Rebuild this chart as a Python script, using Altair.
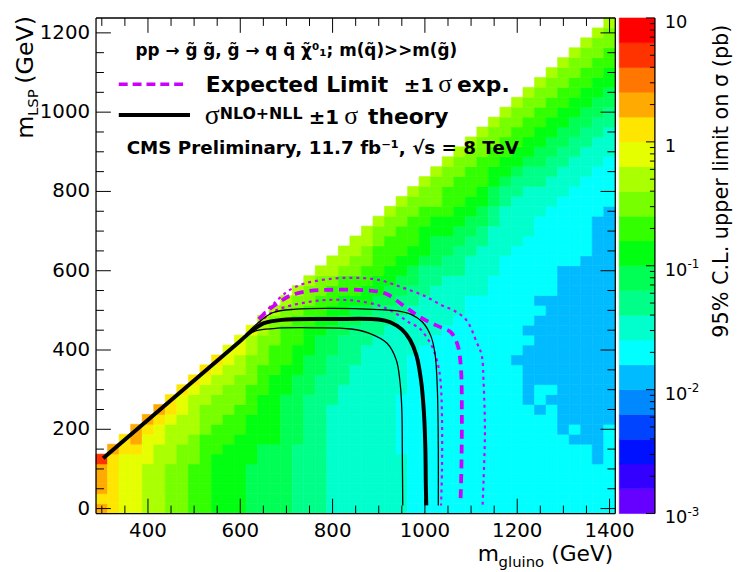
import numpy as np
import pandas as pd
import altair as alt

W, H = 525, 501
FONT = "DejaVu Sans"
SERIF = "Liberation Serif"
MAGENTA = "#CC00FF"

# z palette, from 1e-3 pb (bottom of the bar) to 10 pb (top)
PALETTE = ["#6600FF", "#3300FF", "#0011FF", "#0044FF", "#0088FF", "#00BBFF",
           "#00FFFF", "#00FFCC", "#00FF88", "#00FF55", "#00FF11", "#33FF00",
           "#77FF00", "#AAFF00", "#E6FF00", "#FFE600", "#FFAA00", "#FF7700",
           "#FF3300", "#FF0000"]
LEVEL_CODES = "0123456789ABCDEFGHIJ"
Z_RANGE = [1e-3, 10.0]

# scan points: one column per gluino mass, mLSP from 0 in 25 GeV steps
M_GLUINO = list(range(300, 1401, 25))
LSP_STEP = 25
# colour level of each cell going up the column, as level:count runs
LIMIT_LEVELS = [
    "G:1 F:1 G:3 I:1",
    "F:6 G:1",
    "E:6 F:2",
    "E:6 F:1 G:2",
    "D:5 E:3 F:1 G:1",
    "D:7 E:2 F:1 G:1",
    "C:5 D:4 E:1 F:2",
    "C:7 D:3 E:2 F:1",
    "B:5 C:3 D:4 E:1 F:1",
    "B:8 C:3 D:2 E:1 F:1",
    "A:6 B:3 C:3 D:2 E:1 F:1",
    "A:7 B:3 C:3 D:2 E:2",
    "A:8 B:3 C:3 D:2 E:2",
    "9:5 A:5 B:3 C:3 D:2 E:1",
    "9:7 A:5 B:3 C:3 D:2",
    "9:7 A:7 B:3 C:3 D:1",
    "9:12 A:3 B:4 C:2 D:1",
    "8:7 9:7 A:3 B:3 C:2 D:1",
    "8:12 9:4 A:3 B:2 C:2 D:1",
    "8:14 9:4 A:2 B:2 C:2 D:1",
    "7:11 8:5 9:3 A:2 B:2 C:1 D:2",
    "7:13 8:5 9:2 A:2 B:2 C:1 D:2",
    "7:15 8:4 9:2 A:1 B:2 C:2 D:2",
    "7:17 8:3 9:1 A:2 B:2 C:2 D:2",
    "7:18 8:3 9:1 A:2 B:3 C:2 D:1",
    "7:19 8:2 9:2 A:2 B:3 C:2 D:1",
    "7:6 6:6 7:8 8:2 9:2 A:2 B:3 C:2 D:1",
    "6:16 7:5 8:2 9:2 A:2 B:3 C:2 D:1",
    "6:17 7:5 8:3 9:1 A:3 B:2 C:2 D:1",
    "6:18 7:5 8:2 9:3 A:2 B:1 C:3 D:1",
    "6:19 7:5 8:2 9:2 A:2 B:3 C:2 D:1",
    "6:20 7:4 8:3 9:2 A:2 B:3 C:2 D:1",
    "6:22 7:4 8:2 9:2 A:2 B:3 C:2 D:1",
    "6:22 7:5 8:2 9:2 A:2 B:3 C:2 D:1",
    "6:24 7:5 8:2 9:2 A:2 B:2 C:2 D:1",
    "6:26 7:5 8:2 9:1 A:2 B:2 C:2 D:1",
    "6:15 5:1 6:11 7:5 8:2 9:1 A:2 B:2 C:2 D:1",
    "6:11 5:6 6:1 5:1 6:9 7:5 8:2 9:1 A:2 B:2 C:2 D:1",
    "6:10 5:1 6:2 5:7 6:1 5:1 6:8 7:3 8:2 9:2 A:2 B:2 C:2 D:1",
    "6:11 5:1 6:1 5:9 6:9 7:3 8:2 9:2 A:2 B:2 C:2 D:1",
    "6:8 5:17 6:7 7:3 8:2 9:2 A:2 B:2 C:2 D:1",
    "6:7 5:1 6:1 5:16 6:8 7:3 8:2 9:2 A:2 B:2 C:2 D:1",
    "6:7 5:19 6:8 7:3 8:2 9:2 A:2 B:2 C:2 D:1",
    "6:5 5:25 6:5 7:3 8:2 9:2 A:2 B:2 C:2 D:1",
    "6:9 5:22 6:5 7:3 8:2 9:2 A:2 B:2 C:2 D:1",
]

# exclusion contours (m_gluino, m_LSP)
OBS_MG = [303, 600, 625, 650, 690, 800, 900, 925, 950, 968, 982, 992, 998, 1001, 1002, 1003]
OBS_MLSP = [127, 423, 448, 467, 476, 478, 477, 470, 452, 425, 385, 320, 240, 150, 60, 8]
THEO_UP_MG = [612, 640, 670, 720, 800, 900, 940, 970, 995, 1013, 1022, 1027, 1029, 1029]
THEO_UP_MLSP = [440, 470, 494, 503, 505, 502, 499, 490, 470, 435, 390, 300, 150, 8]
THEO_DN_MG = [612, 640, 680, 760, 840, 880, 918, 938, 946, 950, 951, 952]
THEO_DN_MLSP = [438, 450, 455, 456, 453, 442, 417, 375, 320, 250, 150, 8]
EXP_MG = [640, 660, 686, 710, 750, 800, 880, 916, 950, 980, 1010, 1035, 1056, 1071, 1078, 1080, 1079, 1077]
EXP_MLSP = [478, 500, 522, 538, 549, 552, 550, 542, 515, 490, 470, 457, 445, 412, 355, 230, 100, 12]
EXP_UP_MG = [650, 675, 705, 740, 800, 850, 900, 950, 1000, 1036, 1062, 1090, 1112, 1123, 1127, 1130, 1127, 1125]
EXP_UP_MLSP = [492, 520, 550, 568, 580, 582, 577, 558, 536, 513, 500, 475, 420, 387, 320, 195, 70, 8]
EXP_DN_MG = [640, 665, 693, 773, 843, 901, 937, 965, 988, 1005, 1017, 1028, 1034, 1037, 1037, 1035]
EXP_DN_MLSP = [468, 492, 507, 525, 525, 512, 492, 470, 455, 430, 405, 365, 320, 230, 100, 8]

X_RANGE = [287.5, 1412.5]
Y_RANGE = [-12.5, 1237.5]
X_LABELS = [400, 600, 800, 1000, 1200, 1400]
Y_LABELS = [0, 200, 400, 600, 800, 1000, 1200]
X_MINOR = [300, 350, 450, 500, 550, 650, 700, 750, 850, 900, 950,
           1050, 1100, 1150, 1250, 1300, 1350]
Y_MINOR = [50, 100, 150, 250, 300, 350, 450, 500, 550, 650, 700, 750,
           850, 900, 950, 1050, 1100, 1150]

CB_VALUES = [10, 1, 0.1, 0.01, 0.001]
CB_BASE = ["10", "1", "10", "10", "10"]
CB_EXP = ["", "", "-1", "-2", "-3"]

TXT_PROCESS = "pp \u2192 g\u0303 g\u0303, g\u0303 \u2192 q q\u0304 \u03c7\u0303\u2070\u2081; m(q\u0303)>>m(g\u0303)"
TXT_CMS = "CMS Preliminary, 11.7 fb\u207b\u00b9, \u221as = 8 TeV"
TXT_ZTITLE = "95% C.L. upper limit on \u03c3 (pb)"

XS = alt.Scale(domain=X_RANGE, nice=False, zero=False)
YS = alt.Scale(domain=Y_RANGE, nice=False, zero=False)
ZS = alt.Scale(type="log", domain=Z_RANGE, nice=False)

# %% cells
rows = []
for mg, runs in zip(M_GLUINO, LIMIT_LEVELS):
    codes = "".join(c * int(n) for c, n in (r.split(":") for r in runs.split()))
    for j, c in enumerate(codes):
        rows.append({"mg": mg, "mlsp": j * LSP_STEP,
                     "color": PALETTE[LEVEL_CODES.index(c)]})
cells = pd.DataFrame(rows)
cells["x0"] = cells.mg - LSP_STEP / 2
cells["x1"] = cells.mg + LSP_STEP / 2
cells["y0"] = cells.mlsp - LSP_STEP / 2
cells["y1"] = cells.mlsp + LSP_STEP / 2

heat = alt.Chart(cells).mark_rect(strokeWidth=0.6).encode(
    x=alt.X("x0:Q", scale=XS, axis=None),
    x2="x1:Q",
    y=alt.Y("y0:Q", scale=YS, axis=None),
    y2="y1:Q",
    color=alt.Color("color:N", scale=None),
    stroke=alt.Stroke("color:N", scale=None),
)


def contour(mg, mlsp, color, width, dash=None):
    df = pd.DataFrame({"mg": mg, "mlsp": mlsp, "i": range(len(mg))})
    kw = dict(color=color, strokeWidth=width, interpolate="catmull-rom")
    if dash:
        kw["strokeDash"] = dash
    return alt.Chart(df).mark_line(**kw).encode(
        x=alt.X("mg:Q", scale=XS, axis=None),
        y=alt.Y("mlsp:Q", scale=YS, axis=None),
        order="i:Q",
    )


lines = [
    contour(EXP_UP_MG, EXP_UP_MLSP, MAGENTA, 2.2, [3, 4]),
    contour(EXP_DN_MG, EXP_DN_MLSP, MAGENTA, 2.2, [3, 4]),
    contour(EXP_MG, EXP_MLSP, MAGENTA, 3.8, [9, 6]),
    contour(THEO_UP_MG, THEO_UP_MLSP, "black", 1.3),
    contour(THEO_DN_MG, THEO_DN_MLSP, "black", 1.3),
    contour(OBS_MG, OBS_MLSP, "black", 4),
]


def x_ticks(values, length):
    df = pd.DataFrame({"v": values})
    base = alt.Chart(df).mark_rule(color="black", strokeWidth=1)
    enc = dict(x=alt.X("v:Q", scale=XS, axis=None))
    return [base.encode(y=alt.value(H), y2=alt.value(H - length), **enc),
            base.encode(y=alt.value(0), y2=alt.value(length), **enc)]


def y_ticks(values, length):
    df = pd.DataFrame({"v": values})
    base = alt.Chart(df).mark_rule(color="black", strokeWidth=1)
    enc = dict(y=alt.Y("v:Q", scale=YS, axis=None))
    return [base.encode(x=alt.value(0), x2=alt.value(length), **enc),
            base.encode(x=alt.value(W), x2=alt.value(W - length), **enc)]


ticks = x_ticks(X_LABELS, 15) + x_ticks(X_MINOR, 8) + y_ticks(Y_LABELS, 15) + y_ticks(Y_MINOR, 8)

# tick labels, placed through the same scales
x_lab = alt.Chart(pd.DataFrame({"v": X_LABELS})).mark_text(
    align="center", baseline="top", font=FONT, fontSize=20, color="black"
).encode(x=alt.X("v:Q", scale=XS, axis=None), y=alt.value(H + 8), text="v:Q")
y_lab = alt.Chart(pd.DataFrame({"v": Y_LABELS})).mark_text(
    align="right", baseline="middle", font=FONT, fontSize=20, color="black"
).encode(y=alt.Y("v:Q", scale=YS, axis=None), x=alt.value(-6), text="v:Q")

one = pd.DataFrame({"k": [0]})
edge = alt.Chart(one).mark_rule(color="black", strokeWidth=1.3)
frame = [
    edge.encode(x=alt.value(0), x2=alt.value(W), y=alt.value(0)),
    edge.encode(x=alt.value(0), x2=alt.value(W), y=alt.value(H)),
    edge.encode(x=alt.value(0), y=alt.value(0), y2=alt.value(H)),
    edge.encode(x=alt.value(W), y=alt.value(0), y2=alt.value(H)),
]


def label(text, x, y, size, bold=False, font=FONT, align="left", angle=0):
    return alt.Chart(pd.DataFrame({"t": [text]})).mark_text(
        align=align, baseline="alphabetic", font=font, fontSize=size,
        fontWeight="bold" if bold else "normal", angle=angle, color="black",
    ).encode(x=alt.value(x), y=alt.value(y), text="t:N")


legend = [
    alt.Chart(one).mark_rule(color=MAGENTA, strokeWidth=3.5, strokeDash=[9, 5]).encode(
        x=alt.value(23), x2=alt.value(88), y=alt.value(67)),
    alt.Chart(one).mark_rule(color="black", strokeWidth=4).encode(
        x=alt.value(23), x2=alt.value(95), y=alt.value(98)),
    label(TXT_PROCESS, 40, 38, 17, bold=True),
    label("Expected Limit", 111, 75, 22, bold=True),
    label("\u00b11", 311, 75, 20, bold=True),
    label("\u03c3", 346, 75, 26, font=SERIF),
    label("exp.", 365, 75, 22, bold=True),
    label("\u03c3", 110, 107, 28, font=SERIF),
    label("NLO+NLL", 125, 102, 16, bold=True),
    label("\u00b11", 215, 107, 20, bold=True),
    label("\u03c3", 251, 107, 26, font=SERIF),
    label("theory", 275, 107, 22, bold=True),
    label(TXT_CMS, 31, 138, 18.5, bold=True),
]

titles = [
    label("m", 386, 549, 22),
    label("gluino", 407, 555, 15),
    label("(GeV)", 523, 549, 22, align="right"),
    label("m", -64, 122, 24, angle=270),
    label("LSP", -59, 99, 15, angle=270),
    label("(GeV)", -64, -2, 24, align="right", angle=270),
    label(TXT_ZTITLE, 639, 165, 21, align="center", angle=270),
]

main = alt.layer(heat, *lines, *ticks, *frame, x_lab, y_lab, *legend, *titles)

# %% colour bar
edges = np.logspace(np.log10(Z_RANGE[0]), np.log10(Z_RANGE[1]), len(PALETTE) + 1)
bands = pd.DataFrame({"lo": edges[:-1], "hi": edges[1:], "color": PALETTE})
CB_X0, CB_X1 = W + 4, W + 40
cb = alt.Chart(bands).mark_rect(strokeWidth=0.6).encode(
    x=alt.value(CB_X0), x2=alt.value(CB_X1),
    y=alt.Y("lo:Q", scale=ZS, axis=None), y2="hi:Q",
    color=alt.Color("color:N", scale=None),
    stroke=alt.Stroke("color:N", scale=None),
)
cb_major = pd.DataFrame({"v": CB_VALUES})
cb_minor = pd.DataFrame({"v": [m * d for d in CB_VALUES[1:] for m in range(2, 10)]})
cb_ticks = [
    alt.Chart(cb_major).mark_rule(color="black", strokeWidth=1).encode(
        x=alt.value(CB_X1 - 9), x2=alt.value(CB_X1), y=alt.Y("v:Q", scale=ZS, axis=None)),
    alt.Chart(cb_minor).mark_rule(color="black", strokeWidth=1).encode(
        x=alt.value(CB_X1 - 5), x2=alt.value(CB_X1), y=alt.Y("v:Q", scale=ZS, axis=None)),
    alt.Chart(one).mark_rule(color="black", strokeWidth=1.3).encode(
        x=alt.value(CB_X1), y=alt.value(0), y2=alt.value(H)),
]
cb_text = pd.DataFrame({"v": CB_VALUES, "base": CB_BASE, "exp": CB_EXP})
cb_labels = [
    alt.Chart(cb_text).mark_text(align="left", baseline="middle", font=FONT,
                                 fontSize=18, dy=5, color="black").encode(
        x=alt.value(CB_X1 + 10), y=alt.Y("v:Q", scale=ZS, axis=None), text="base:N"),
    alt.Chart(cb_text[cb_text.exp != ""]).mark_text(align="left", baseline="middle", font=FONT,
                                                    fontSize=12, dy=-2, color="black").encode(
        x=alt.value(CB_X1 + 33), y=alt.Y("v:Q", scale=ZS, axis=None), text="exp:N"),
]
cbar = alt.layer(cb, *cb_ticks, *cb_labels)

chart = alt.layer(main, cbar).resolve_scale(y="independent").properties(
    width=W, height=H,
    autosize=alt.AutoSizeParams(type="none"),
    padding={"left": 89, "top": 7, "right": 120, "bottom": 56},
).configure_view(strokeWidth=0)

chart.save("out.html", embed_options={"renderer": "svg", "actions": False})
